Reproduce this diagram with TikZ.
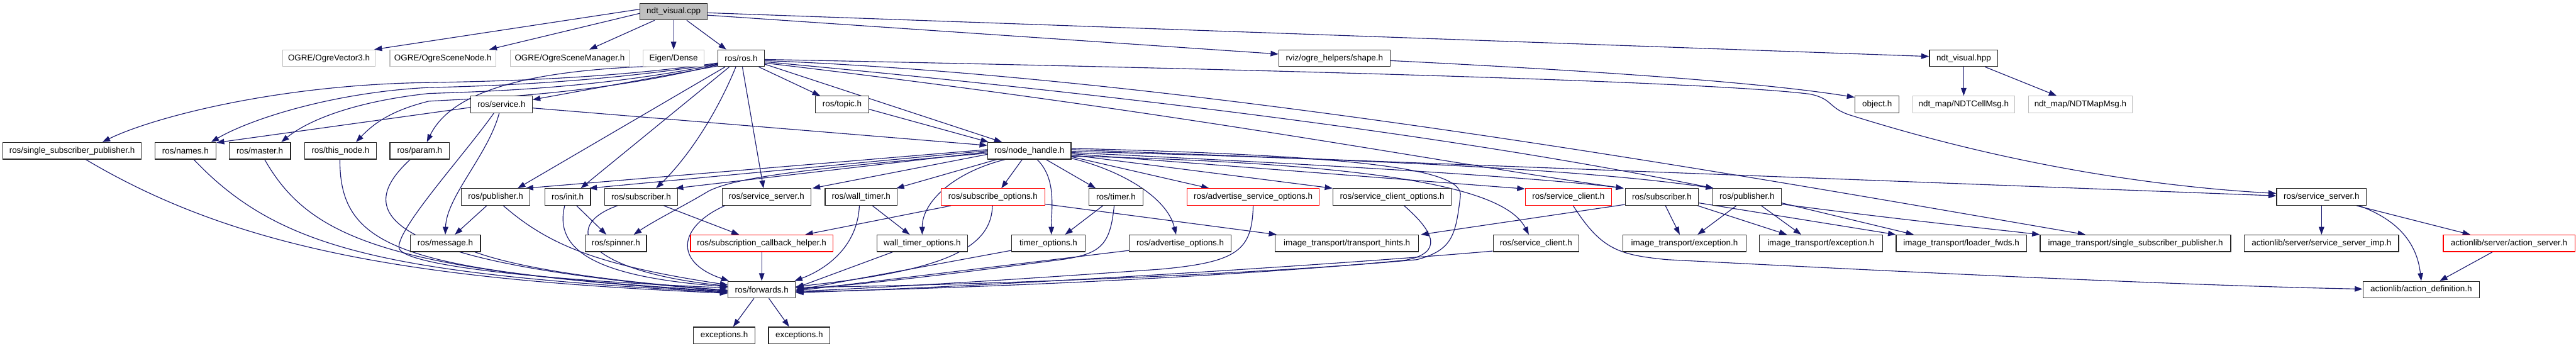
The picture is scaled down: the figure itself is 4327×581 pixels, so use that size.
\documentclass[tikz,border=0pt]{standalone}
\usepackage{fontspec}
\setmainfont{Liberation Sans}
\usetikzlibrary{arrows.meta,calc}
\pgfdeclarelayer{bg}
\pgfsetlayers{bg,main}
\definecolor{edgec}{HTML}{191970}
\definecolor{grayb}{HTML}{BFBFBF}
\newcommand\nfont{\fontsize{7.1}{8}\selectfont}
\begin{document}
\begin{tikzpicture}[x=0.5pt,y=-0.5pt,
  box/.style={draw=black!85, fill=white, line width=0.65pt, minimum height=14pt, inner sep=0pt, font=\nfont},
  gbox/.style={box, draw=grayb},
  rbox/.style={box, draw=red},
  rootbox/.style={box, fill=grayb},
  dep/.style={draw=edgec, line width=0.6pt, -{Triangle[length=6.5pt,width=4.6pt]}}]
\useasboundingbox (0,0) rectangle (4327,581);
% row 0
\node[rootbox, minimum width=56.5pt] (cpp) at (1131.5,19.5) {ndt\_visual.cpp};
% row 1
\node[gbox, minimum width=77.5pt] (ov3) at (552.5,97.8) {OGRE/OgreVector3.h};
\node[gbox, minimum width=89pt] (osn) at (744,97.8) {OGRE/OgreSceneNode.h};
\node[gbox, minimum width=100pt] (osm) at (957,97.8) {OGRE/OgreSceneManager.h};
\node[gbox, minimum width=51.5pt] (eig) at (1131.5,97.8) {Eigen/Dense};
\node[box, minimum width=39pt] (ros) at (1245,97.8) {ros/ros.h};
\node[box, minimum width=93.5pt] (shape) at (2241.5,97.8) {rviz/ogre\_helpers/shape.h};
\node[box, minimum width=57.5pt] (hpp) at (3298.5,97.8) {ndt\_visual.hpp};
% row 2
\node[box, minimum width=51.5pt] (srv) at (842.5,175.4) {ros/service.h};
\node[box, minimum width=44.5pt] (topic) at (1414.5,175.4) {ros/topic.h};
\node[box, minimum width=37pt] (obj) at (3153,175.4) {object.h};
\node[gbox, minimum width=85.5pt] (cell) at (3298.5,175.4) {ndt\_map/NDTCellMsg.h};
\node[gbox, minimum width=87.5pt] (mapm) at (3494.5,175.4) {ndt\_map/NDTMapMsg.h};
% row 3
\node[box, minimum width=116pt] (ssp) at (121,253.2) {ros/single\_subscriber\_publisher.h};
\node[box, minimum width=51.5pt] (names) at (311.5,253.2) {ros/names.h};
\node[box, minimum width=51.5pt] (master) at (436.5,253.2) {ros/master.h};
\node[box, minimum width=60pt] (thisn) at (572,253.2) {ros/this\_node.h};
\node[box, minimum width=50pt] (param) at (705,253.2) {ros/param.h};
\node[box, minimum width=70pt] (nh) at (1729,253.2) {ros/node\_handle.h};
% row 4
\node[box, minimum width=57.5pt] (pubL) at (832.5,330.8) {ros/publisher.h};
\node[box, minimum width=38.5pt] (init) at (953.5,330.8) {ros/init.h};
\node[box, minimum width=61pt] (subL) at (1077,330.8) {ros/subscriber.h};
\node[box, minimum width=74.5pt] (ssL) at (1287.5,330.8) {ros/service\_server.h};
\node[box, minimum width=60.5pt] (wt) at (1446.5,330.8) {ros/wall\_timer.h};
\node[rbox, minimum width=87pt] (so) at (1668,330.8) {ros/subscribe\_options.h};
\node[box, minimum width=45.5pt] (timer) at (1874.5,330.8) {ros/timer.h};
\node[rbox, minimum width=111pt] (aso) at (2105,330.8) {ros/advertise\_service\_options.h};
\node[box, minimum width=99.5pt] (sco) at (2338.5,330.8) {ros/service\_client\_options.h};
\node[rbox, minimum width=72.5pt] (scR) at (2634.5,330.8) {ros/service\_client.h};
\node[box, minimum width=61.5pt] (subR) at (2791.5,330.8) {ros/subscriber.h};
\node[box, minimum width=57.5pt] (pubR) at (2934.5,330.8) {ros/publisher.h};
\node[box, minimum width=75.5pt] (ssR) at (3899.5,330.8) {ros/service\_server.h};
% row 5
\node[box, minimum width=59pt] (msg) at (748,408.6) {ros/message.h};
\node[box, minimum width=51.5pt] (spin) at (1034.5,408.6) {ros/spinner.h};
\node[rbox, minimum width=119.5pt] (sch) at (1279.5,408.6) {ros/subscription\_callback\_helper.h};
\node[box, minimum width=76pt] (wto) at (1549,408.6) {wall\_timer\_options.h};
\node[box, minimum width=62pt] (to) at (1761,408.6) {timer\_options.h};
\node[box, minimum width=85.5pt] (ao) at (1982.5,408.6) {ros/advertise\_options.h};
\node[box, minimum width=120.5pt] (th) at (2262.5,408.6) {image\_transport/transport\_hints.h};
\node[box, minimum width=72pt] (sc) at (2580,408.6) {ros/service\_client.h};
\node[box, minimum width=103.5pt] (ex1) at (2829.5,408.6) {image\_transport/exception.h};
\node[box, minimum width=103.5pt] (ex2) at (3058.5,408.6) {image\_transport/exception.h};
\node[box, minimum width=109.5pt] (lf) at (3294.5,408.6) {image\_transport/loader\_fwds.h};
\node[box, minimum width=160pt] (itssp) at (3587,408.6) {image\_transport/single\_subscriber\_publisher.h};
\node[box, minimum width=129.5pt] (ssi) at (3899.5,408.6) {actionlib/server/service\_server\_imp.h};
\node[rbox, minimum width=110.5pt] (as) at (4214.5,408.6) {actionlib/server/action\_server.h};
% row 6
\node[box, minimum width=56.5pt] (fwd) at (1279.5,486.4) {ros/forwards.h};
\node[box, minimum width=98pt] (ad) at (4067,486.4) {actionlib/action\_definition.h};
% row 7
\node[box, minimum width=51.5pt] (exc1) at (1216.5,563.3) {exceptions.h};
\node[box, minimum width=51.5pt] (exc2) at (1342.5,563.3) {exceptions.h};

\begin{pgfonlayer}{bg}
\fill[white] (0,0) rectangle (4327,581);
% root
\draw[dep] ($(cpp.west)+(0,-4)$) -- ($(ov3.north east)+(-2,0)$);
\draw[dep] ($(cpp.west)+(0,3)$) -- ($(osn.north east)+(-12,0)$);
\draw[dep] ($(cpp.south)+(-32,0)$) -- ($(osm.north)+(33,0)$);
\draw[dep] (cpp.south) -- (eig.north);
\draw[dep] ($(cpp.south)+(22,0)$) -- ($(ros.north)+(-25,0)$);
\draw[dep] ($(cpp.east)+(0,6)$) -- ($(shape.west)+(0,-7)$);
\draw[dep] ($(cpp.east)+(0,2)$) -- ($(hpp.west)+(0,-3)$);
\draw[dep] ($(shape.east)+(0,4)$) .. controls (2800,125) and (3000,145) .. ($(obj.west)+(0,-12)$);
\draw[dep] (hpp.south) -- (cell.north);
\draw[dep] ($(hpp.south)+(36,0)$) -- ($(mapm.north)+(-40,0)$);
% ros.h left
\draw[dep] ($(ros.west)+(0,8)$) .. controls (1000,135) and (800,137) .. (700,139) .. controls (450,145) and (250,200) .. ($(ssp.north)+(51,0)$);
\draw[dep] ($(ros.west)+(0,9)$) .. controls (1000,140) and (800,145) .. (720,147) .. controls (560,155) and (420,200) .. ($(names.north east)+(-9,0)$);
\draw[dep] ($(ros.west)+(0,10)$) .. controls (1000,150) and (800,154) .. (720,157) .. controls (600,170) and (520,200) .. ($(master.north)+(36,0)$);
\draw[dep] ($(ros.west)+(0,11)$) .. controls (1000,160) and (800,165) .. (720,170) .. controls (660,185) and (630,205) .. ($(thisn.north)+(26,0)$);
\draw[dep] ($(ros.west)+(0,12)$) .. controls (900,108) and (760,150) .. ($(param.north)+(12,0)$);
\draw[dep] ($(ros.west)+(0,13)$) -- ($(srv.east)+(0,-8)$);
\draw[dep] ($(ros.south)+(-27,0)$) -- ($(pubL.north)+(37,0)$);
\draw[dep] ($(ros.south)+(-20,0)$) -- ($(init.north)+(22,0)$);
\draw[dep] ($(ros.south)+(-9,0)$) .. controls (1200,200) and (1150,270) .. ($(subL.north)+(25,0)$);
\draw[dep] ($(ros.south)+(2,0)$) -- ($(ssL.north)+(-5,0)$);
% ros.h right
\draw[dep] ($(ros.south east)+(-10,0)$) -- ($(topic.north)+(-37,0)$);
\draw[dep] ($(ros.east)+(0,10)$) -- ($(nh.north)+(-46,0)$);
\draw[dep] ($(topic.east)+(0,8)$) -- ($(nh.north west)+(2,0)$);
\draw[dep] ($(srv.east)+(0,6)$) -- ($(nh.west)+(0,-9)$);
\draw[dep] ($(ros.east)+(0,2)$) .. controls (2300,120) and (2900,140) .. (3040,158) .. controls (3080,166) and (3070,182) .. (3110,194) .. controls (3400,285) and (3650,315) .. ($(ssR.west)+(0,-6)$);
\draw[dep] ($(ros.east)+(0,4)$) .. controls (2000,130) and (2900,290) .. ($(itssp.north)+(-84,0)$);
\draw[dep] ($(ros.east)+(0,6)$) .. controls (2000,170) and (2500,240) .. ($(pubR.north west)+(2,0)$);
\draw[dep] ($(ros.east)+(0,8)$) .. controls (2000,190) and (2400,270) .. ($(subR.north west)+(-2,0)$);
% node_handle
\draw[dep] ($(nh.west)+(0,-2)$) -- ($(pubL.north east)+(-8,0)$);
\draw[dep] (nh.west) -- ($(init.north east)+(-3,0)$);
\draw[dep] ($(nh.west)+(0,2)$) -- ($(subL.north east)+(-4,0)$);
\draw[dep] ($(nh.west)+(0,4)$) .. controls (1400,280) and (1230,295) .. (1185,324) .. controls (1150,345) and (1100,370) .. ($(spin.north)+(30,0)$);
\draw[dep] ($(nh.west)+(0,6)$) -- ($(ssL.north east)+(2,0)$);
\draw[dep] ($(nh.south west)+(16,0)$) -- ($(wt.north east)+(-2,0)$);
\draw[dep] ($(nh.south west)+(30,0)$) .. controls (1600,290) and (1549,340) .. (wto.north);
\draw[dep] ($(nh.south)+(-12,0)$) -- ($(so.north)+(14,0)$);
\draw[dep] ($(nh.south)+(13,0)$) .. controls (1775,300) and (1766,350) .. ($(to.north)+(5,0)$);
\draw[dep] ($(nh.south)+(28,0)$) -- ($(timer.north)+(-34,0)$);
\draw[dep] ($(nh.south east)+(0,-2)$) .. controls (1880,285) and (1960,330) .. ($(ao.north)+(-7,0)$);
\draw[dep] ($(nh.east)+(0,10)$) -- ($(aso.north)+(-74,0)$);
\draw[dep] ($(nh.east)+(0,7)$) -- (sco.north west);
\draw[dep] ($(nh.east)+(0,5)$) -- ($(scR.north west)+(0,1)$);
\draw[dep] ($(nh.east)+(0,3)$) .. controls (2300,280) and (2600,300) .. ($(subR.north west)+(-2,0)$);
\draw[dep] ($(nh.east)+(0,1)$) .. controls (2400,270) and (2700,290) .. ($(pubR.north west)+(2,0)$);
\draw[dep] ($(nh.east)+(0,-2)$) -- ($(ssR.west)+(0,-2)$);
\draw[dep] ($(nh.east)+(0,9)$) .. controls (2350,275) and (2530,320) .. ($(sc.north)+(-12,0)$);
\draw[dep] ($(nh.east)+(0,-4)$) .. controls (2300,262) and (2460,285) .. (2453,330) .. controls (2445,395) and (2440,420) .. (2380,436) .. controls (2100,462) and (1600,480) .. ($(fwd.east)+(0,-4)$);
% lower, left part
\draw[dep] ($(srv.west)+(0,5)$) -- ($(names.north east)+(0,1)$);
\draw[dep] ($(srv.south)+(-4,0)$) .. controls (820,260) and (750,330) .. (msg.north);
\draw[dep] ($(srv.south)+(-13,0)$) .. controls (780,260) and (670,380) .. (670,415) .. controls (670,445) and (900,470) .. ($(fwd.west)+(0,-3)$);
\draw[dep] ($(ssp.south)+(23,0)$) .. controls (400,420) and (700,470) .. ($(fwd.west)+(0,6)$);
\draw[dep] ($(names.south)+(14,0)$) .. controls (470,420) and (650,460) .. ($(fwd.west)+(0,5)$);
\draw[dep] ($(master.south)+(8,0)$) .. controls (520,400) and (650,455) .. ($(fwd.west)+(0,4)$);
\draw[dep] ($(thisn.south)+(-1,0)$) .. controls (570,420) and (680,455) .. ($(fwd.west)+(0,3)$);
\draw[dep] ($(param.south)+(-16,0)$) .. controls (600,350) and (610,440) .. ($(fwd.west)+(0,2)$);
\draw[dep] ($(msg.south east)+(-10,0)$) .. controls (900,460) and (1100,478) .. ($(fwd.west)+(0,1)$);
\draw[dep] ($(pubL.south)+(-15,0)$) -- ($(msg.north)+(16,0)$);
\draw[dep] ($(pubL.south)+(13,0)$) .. controls (920,410) and (1000,445) .. ($(fwd.west)+(0,-8)$);
\draw[dep] ($(init.south)+(15,0)$) -- ($(spin.north)+(-16,0)$);
\draw[dep] ($(init.south)+(-5,0)$) .. controls (930,420) and (1000,465) .. ($(fwd.west)+(0,-5)$);
\draw[dep] ($(subL.south)+(38,0)$) -- ($(sch.north)+(-38,0)$);
\draw[dep] ($(subL.south)+(-40,0)$) .. controls (940,380) and (980,455) .. ($(fwd.west)+(0,-6)$);
\draw[dep] ($(ssL.south)+(-70,0)$) .. controls (1140,380) and (1130,440) .. ($(fwd.north west)+(2,0)$);
\draw[dep] (sch.south) -- (fwd.north);
\draw[dep] ($(wt.south)+(19,0)$) -- ($(wto.north)+(-21,0)$);
\draw[dep] ($(wt.south)+(-3,0)$) .. controls (1440,420) and (1380,455) .. ($(fwd.north east)+(-2,0)$);
\draw[dep] ($(so.south west)+(17,0)$) -- ($(sch.north)+(73,0)$);
\draw[dep] ($(so.south)+(-1,0)$) .. controls (1665,420) and (1580,455) .. ($(fwd.east)+(0,-5)$);
\draw[dep] ($(so.east)+(0,12)$) -- ($(th.north west)+(3,0)$);
\draw[dep] ($(wto.south west)+(27,0)$) -- ($(fwd.east)+(0,-3)$);
\draw[dep] ($(timer.south)+(-22,0)$) -- ($(to.north)+(28,0)$);
\draw[dep] ($(timer.south)+(-3,0)$) .. controls (1865,410) and (1850,425) .. (1790,435) .. controls (1600,460) and (1450,478) .. ($(fwd.east)+(0,-1)$);
\draw[dep] ($(to.west)+(0,12)$) -- ($(fwd.east)+(0,1)$);
\draw[dep] ($(ao.west)+(0,12)$) -- ($(fwd.east)+(0,2)$);
\draw[dep] (aso.south) .. controls (2103,420) and (2080,440) .. (1950,452) .. controls (1700,470) and (1500,482) .. ($(fwd.east)+(0,3)$);
\draw[dep] ($(sco.south)+(20,0)$) .. controls (2410,390) and (2425,425) .. (2360,437) .. controls (2100,462) and (1700,482) .. ($(fwd.east)+(0,4)$);
\draw[dep] ($(sc.west)+(0,13)$) .. controls (2300,440) and (1700,480) .. ($(fwd.east)+(0,5)$);
% right part
\draw[dep] ($(scR.south)+(8,0)$) .. controls (2690,420) and (2720,428) .. (2800,436) .. controls (3300,462) and (3700,480) .. ($(ad.west)+(0,-1)$);
\draw[dep] ($(subR.south west)+(0,-2)$) -- ($(th.north east)+(3,0)$);
\draw[dep] ($(subR.south)+(6,0)$) -- ($(ex1.north)+(-8,0)$);
\draw[dep] ($(subR.south east)+(-2,0)$) -- ($(ex2.north)+(-57,0)$);
\draw[dep] ($(subR.east)+(0,10)$) -- (lf.north west);
\draw[dep] ($(pubR.south)+(-18,0)$) -- ($(ex1.north)+(22,0)$);
\draw[dep] ($(pubR.south)+(24,0)$) -- ($(ex2.north)+(-33,0)$);
\draw[dep] ($(pubR.east)+(0,10)$) -- ($(lf.north)+(-80,0)$);
\draw[dep] ($(pubR.east)+(0,12)$) .. controls (3200,370) and (3350,385) .. (itssp.north west);
\draw[dep] (ssR.south) -- (ssi.north);
\draw[dep] ($(ssR.south)+(59,0)$) -- ($(as.north)+(-65,0)$);
\draw[dep] ($(ssR.south)+(63,0)$) .. controls (4030,370) and (4060,410) .. (ad.north);
\draw[dep] ($(as.south)+(-28,0)$) -- ($(ad.north)+(31,0)$);
\draw[dep] ($(fwd.south)+(-13,0)$) -- ($(exc1.north)+(15,0)$);
\draw[dep] ($(fwd.south)+(12,0)$) -- ($(exc2.north)+(-17,0)$);
\end{pgfonlayer}
\end{tikzpicture}
\end{document}
